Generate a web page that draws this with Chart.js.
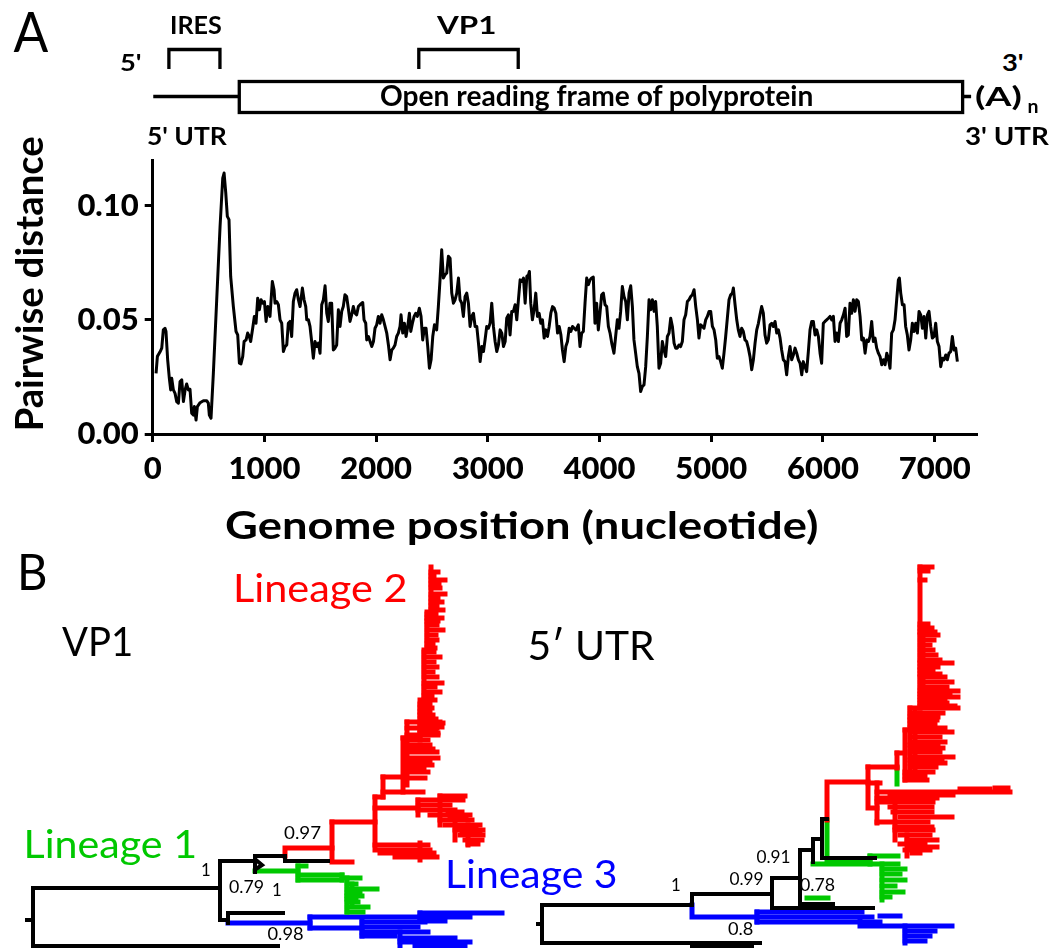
<!DOCTYPE html>
<html><head><meta charset="utf-8">
<script src="https://cdn.jsdelivr.net/npm/chart.js@4.4.1/dist/chart.umd.min.js"></script>
<style>
html,body{margin:0;padding:0;background:#fff;}
#fig{position:relative;width:1054px;height:948px;overflow:hidden;background:#fff;font-family:Lato,'Open Sans',sans-serif;}
canvas{position:absolute;left:0;}
.lbl{position:absolute;white-space:nowrap;line-height:1;transform-origin:50% 50%;}
</style></head>
<body>
<div id="fig">
<canvas id="cA" width="1000" height="510" style="top:0"></canvas>
<canvas id="cB" width="1054" height="388" style="top:560px"></canvas>
</div>
<script>
// ---------- Panel A data ----------
const genomePositions = [
30,42,66,81,95,110,119,134,149,161,
170,185,200,215,230,245,260,275,290,304,
319,334,349,364,373,388,400,424,454,483,
498,507,522,543,573,603,627,639,654,668,
683,698,722,746,761,776,790,806,818,836,
850,865,877,895,910,925,940,955,970,985,
1000,1015,1030,1050,1071,1086,1095,1110,1125,1140,
1155,1170,1185,1200,1214,1229,1244,1259,1274,1289,
1304,1319,1340,1355,1370,1379,1394,1408,1423,1438,
1453,1468,1483,1498,1513,1528,1543,1558,1572,1587,
1602,1617,1632,1647,1662,1677,1692,1706,1721,1736,
1751,1766,1781,1796,1811,1826,1841,1856,1880,1892,
1907,1916,1931,1946,1961,1976,1990,2005,2020,2035,
2050,2065,2080,2095,2110,2125,2140,2154,2169,2184,
2199,2214,2223,2238,2253,2268,2283,2298,2310,2325,
2340,2355,2369,2387,2402,2417,2432,2447,2462,2477,
2492,2507,2522,2542,2557,2572,2587,2602,2617,2632,
2647,2662,2677,2692,2707,2722,2737,2751,2766,2781,
2796,2811,2826,2841,2856,2871,2886,2901,2916,2931,
2946,2961,2975,2990,3005,3020,3035,3050,3065,3080,
3095,3110,3125,3140,3155,3169,3184,3199,3214,3229,
3244,3259,3274,3289,3304,3319,3334,3349,3364,3372,
3384,3399,3414,3429,3444,3459,3474,3489,3504,3519,
3534,3549,3564,3579,3594,3609,3624,3639,3654,3668,
3683,3698,3713,3728,3743,3758,3773,3788,3810,3825,
3840,3855,3870,3885,3900,3915,3929,3944,3959,3974,
3989,4004,4019,4034,4049,4064,4079,4094,4109,4129,
4144,4159,4174,4189,4204,4219,4234,4249,4264,4279,
4294,4308,4323,4338,4353,4368,4383,4398,4413,4428,
4443,4458,4473,4488,4502,4517,4532,4547,4562,4577,
4592,4607,4622,4637,4652,4667,4681,4696,4711,4726,
4741,4756,4771,4786,4801,4816,4831,4846,4861,4876,
4890,4905,4920,4935,4950,4965,4980,4995,5010,5025,
5040,5054,5069,5084,5099,5114,5129,5144,5159,5174,
5189,5198,5213,5228,5242,5257,5272,5287,5302,5317,
5332,5347,5362,5377,5392,5407,5422,5436,5451,5466,
5481,5496,5511,5526,5541,5556,5571,5586,5601,5616,
5630,5645,5660,5675,5690,5705,5720,5735,5750,5765,
5780,5795,5810,5824,5839,5854,5869,5884,5899,5914,
5929,5944,5959,5974,5988,6003,6018,6033,6048,6063,
6078,6093,6108,6123,6138,6153,6168,6183,6198,6212,
6227,6242,6257,6272,6287,6302,6317,6332,6347,6362,
6377,6392,6407,6421,6436,6451,6466,6481,6496,6511,
6526,6541,6556,6571,6585,6600,6615,6630,6645,6660,
6675,6684,6696,6711,6726,6740,6755,6770,6785,6800,
6815,6830,6845,6860,6875,6890,6905,6920,6935,6949,
6964,6979,6994,7009,7024,7039,7054,7069,7084,7099,
7113,7128,7143,7158,7173,7188,7203
];
const pairwiseDistance = [
.0266,.034,.036,.0376,.0456,.0463,.0449,.0325,.0244,.0193,
.0244,.0193,.0178,.0142,.0135,.023,.0237,.0142,.0193,.0219,
.0193,.0196,.0091,.0083,.012,.0061,.012,.0137,.0146,.0146,
.0135,.0083,.0069,.0266,.0588,.0909,.1121,.1143,.1056,.0953,
.0939,.069,.0558,.0449,.0434,.031,.0307,.034,.0405,.0412,
.0442,.0427,.0405,.0463,.0515,.0485,.0595,.0544,.0588,.0573,
.058,.0493,.0558,.0515,.0668,.0632,.0573,.058,.0566,.05,
.0485,.0361,.0383,.039,.0485,.0493,.0427,.058,.0617,.0632,
.0588,.0558,.0639,.0588,.0558,.05,.05,.0471,.0405,.0332,
.0405,.0383,.0398,.0354,.0566,.0588,.0649,.0529,.0493,.0573,
.0573,.0368,.0376,.039,.0544,.0471,.0537,.0558,.061,.0602,
.0551,.0493,.0522,.0558,.0529,.0522,.0558,.0566,.0576,.05,
.0485,.0412,.0427,.0405,.0383,.0405,.0463,.0478,.0515,.0485,
.0522,.05,.0471,.0442,.039,.0325,.0368,.0376,.039,.0427,
.0442,.0471,.0522,.0442,.0485,.0427,.0471,.0529,.0449,.0485,
.0515,.0529,.0515,.0551,.0515,.0412,.0463,.0463,.0383,.0288,
.0325,.0427,.0478,.0456,.0558,.0675,.0807,.0683,.0697,.0705,
.0778,.077,.0617,.0573,.0588,.0617,.0683,.0588,.0573,.0515,
.0602,.0617,.0573,.0471,.0515,.0529,.0471,.0471,.0398,.0317,
.0383,.0361,.0412,.0471,.0463,.0485,.0573,.0471,.0405,.0361,
.039,.0456,.0442,.0383,.0405,.0507,.0522,.0434,.0537,.0537,
.0566,.05,.0588,.0675,.0668,.0683,.0573,.069,.0697,.0712,
.0573,.05,.0544,.0617,.0515,.0529,.0485,.05,.042,.0456,
.0427,.0471,.0529,.0558,.0551,.0529,.0442,.0471,.0434,.0368,
.0317,.0383,.0405,.0463,.0449,.0471,.0463,.0456,.0478,.0383,
.0442,.0449,.0573,.0683,.0654,.0675,.0683,.0687,.0485,.0573,
.0456,.0529,.061,.0617,.0566,.0558,.0471,.0442,.0398,.0354,
.0427,.05,.0463,.0537,.0646,.0602,.058,.05,.0617,.0649,
.0558,.0412,.0354,.0295,.0266,.0186,.0208,.0215,.0295,.0427,
.0588,.0544,.0588,.0537,.058,.0471,.0288,.031,.0405,.0368,
.0339,.0427,.0442,.0507,.0471,.0398,.0376,.0376,.039,.0383,
.0405,.05,.0522,.058,.0588,.0602,.061,.0632,.0558,.05,
.042,.0478,.0471,.0463,.05,.0515,.0537,.0537,.0471,.0456,
.0412,.0332,.0339,.0317,.0288,.0354,.0427,.0507,.0588,.061,
.0617,.0639,.0566,.05,.0456,.0427,.0463,.0449,.0412,.0405,
.0376,.0339,.0281,.0325,.0398,.0456,.0485,.0522,.0558,.0529,
.0434,.0398,.0412,.0478,.0485,.0471,.0493,.0442,.0456,.042,
.0368,.0325,.0317,.0259,.0339,.0383,.0325,.0346,.0376,.0354,
.0325,.031,.0259,.0317,.0295,.0273,.0361,.0456,.0493,.0493,
.0434,.0456,.0427,.0354,.031,.0485,.0493,.05,.0507,.0515,
.05,.0515,.0405,.0442,.0405,.0485,.05,.0522,.0551,.0427,
.0434,.0573,.0529,.0588,.0537,.0588,.058,.0515,.0412,.042,
.0354,.0412,.0405,.0427,.0493,.0405,.042,.0376,.0354,.0339,
.0303,.0325,.0303,.0354,.0332,.0288,.0442,.0456,.05,.0588,
.0675,.0683,.0617,.0566,.0566,.0471,.0434,.0368,.0412,.0485,
.0449,.0485,.0442,.0537,.0522,.0463,.0515,.042,.0522,.0537,
.0471,.042,.0427,.0485,.0405,.0383,.0295,.0332,.0325,.0346,
.0325,.0354,.0361,.0427,.0368,.0376,.0317
];
const xTickValues = [0,1000,2000,3000,4000,5000,6000,7000];
const yTickValues = [0, 0.05, 0.10];

// genome map (nucleotide positions)
const genomeSpan = [5, 7326];
const orfRange = [775, 7250];
const iresRange = [145, 602];
const vp1Range = [2382, 3272];

// ---------- Panel B tree branches (tree-space coordinates) ----------
const vp1Black = [
 [[27,920],[33,920]],
 [[220,888],[33,888],[33,946],[278,946]],
 [[255,861],[220,861],[220,920],[228,920]],
 [[228,923],[228,913],[283,913]],
 [[255,872],[255,856],[285,856],[285,861],[328,861]],
 [[256,860],[262,865],[256,869]]
];
const vp1Red = [
 [[285,856],[285,848],[332,848]],
 [[332,822],[332,862],[352,862]],
 [[332,822],[375,822]],
 [[375,797],[375,850],[430,850]],
 [[375,845],[428,845]],[[380,853],[434,853]],[[395,857],[437,857]],[[420,843],[420,860]],
 [[375,808],[418,808]],[[418,800],[418,815]],[[418,800],[463,800]],[[440,796],[465,796]],
 [[418,805],[450,805]],[[418,810],[455,810]],[[430,815],[470,815]],[[440,796],[440,825]],
 [[440,820],[472,820]],[[445,825],[480,825]],[[455,815],[455,840]],[[455,830],[483,830]],
 [[460,835],[483,835]],[[465,840],[482,840]],[[468,825],[468,845]],[[468,844],[478,844]],
 [[448,812],[462,812]],[[450,818],[466,818]],[[458,828],[476,828]],[[462,833],[480,833]],
 [[375,797],[383,797]],[[383,777],[383,797]],[[383,777],[403,777]],[[383,792],[423,792]],
 [[403,738],[403,792]],[[407,722],[407,785]],
 [[407,722],[440,722]],[[407,728],[437,728]],[[407,735],[438,735]],[[407,745],[430,745]],
 [[407,752],[437,752]],[[407,758],[438,758]],[[407,765],[432,765]],[[407,772],[428,772]],
 [[407,778],[425,778]],[[403,738],[420,738]],[[410,740],[428,740]],[[410,749],[433,749]],
 [[410,762],[430,762]],[[410,768],[424,768]],
 [[420,740],[420,700],[424,700],[424,650],[427,650],[427,612],[431,612],[431,567]],
 [[431,572],[438,572]],[[431,576],[434,576]],[[431,580],[445,580]],[[431,584],[439,584]],
 [[431,588],[440,588]],[[431,594],[445,594]],[[431,598],[438,598]],[[431,602],[442,602]],
 [[431,606],[437,606]],[[431,610],[443,610]],[[427,614],[436,614]],[[427,618],[442,618]],
 [[427,621],[438,621]],[[427,625],[437,625]],[[427,630],[443,630]],[[427,635],[436,635]],
 [[427,640],[437,640]],[[427,644],[433,644]],[[427,648],[435,648]],[[424,652],[434,652]],
 [[424,657],[440,657]],[[424,662],[434,662]],[[424,667],[437,667]],[[424,672],[433,672]],
 [[424,677],[437,677]],[[424,683],[442,683]],[[424,687],[435,687]],[[424,692],[440,692]],
 [[424,696],[432,696]],[[424,700],[435,700]],[[420,704],[430,704]],[[420,708],[432,708]],
 [[420,712],[430,712]],[[420,715],[433,715]],[[420,719],[436,719]],[[420,723],[443,723]],
 [[420,727],[442,727]],[[420,730],[436,730]],[[420,733],[438,733]]
];
const vp1Green = [
 [[255,871],[298,871]],[[298,866],[298,880]],[[298,866],[306,866]],
 [[298,875],[342,875]],[[298,880],[342,880]],[[342,875],[342,880]],
 [[342,878],[360,878]],[[347,878],[347,912]],[[352,884],[352,905]],
 [[347,884],[356,884]],[[347,889],[377,889]],[[347,893],[360,893]],[[347,896],[362,896]],
 [[347,899],[356,899]],[[347,902],[358,902]],[[347,907],[368,907]],[[347,912],[363,912]]
];
const vp1Blue = [
 [[228,923],[310,923]],[[310,917],[310,928]],[[310,917],[420,917]],
 [[420,913],[420,921]],[[420,913],[502,913]],[[420,917],[470,917]],[[420,921],[445,921]],
 [[310,928],[362,928]],[[362,920],[362,936]],[[362,922],[425,922]],[[362,927],[418,927]],
 [[362,932],[428,932]],[[362,936],[395,936]],[[400,932],[400,946]],
 [[400,938],[455,938]],[[400,942],[470,942]],[[415,946],[465,946]]
];
const utrBlack = [
 [[538,924],[542,924]],
 [[692,905],[542,905],[542,943],[760,943]],
 [[692,946],[752,946]],
 [[692,905],[692,894],[772,894]],
 [[772,878],[772,908],[873,908]],
 [[772,878],[800,878]],
 [[800,907],[800,850],[813,850]],
 [[813,862],[813,839],[822,839]],
 [[822,858],[822,819],[827,819]],
 [[822,858],[875,858]],
 [[800,904],[833,904]]
];
const utrRed = [
 [[827,820],[827,782],[868,782]],
 [[868,767],[868,808],[877,808]],
 [[868,767],[897,767]],[[897,753],[897,768]],[[897,753],[905,753]],
 [[905,730],[905,780]],[[905,780],[927,780]],[[905,772],[933,772]],[[905,776],[925,776]],
 [[905,730],[910,730]],[[910,708],[910,773]],[[910,708],[920,708]],
 [[920,708],[920,567]],[[923,625],[923,700]],[[915,710],[915,770]],
 [[920,567],[932,567]],[[920,571],[928,571]],[[920,580],[925,580]],
 [[920,624],[928,624]],[[920,628],[932,628]],[[920,632],[935,632]],[[920,635],[938,635]],
 [[920,640],[934,640]],[[920,645],[930,645]],
 [[920,650],[933,650]],[[920,655],[936,655]],[[920,660],[940,660]],[[920,663],[952,663]],
 [[920,667],[938,667]],[[920,670],[933,670]],[[920,674],[940,674]],
 [[920,677],[945,677]],[[920,682],[952,682]],[[920,687],[947,687]],[[920,691],[958,691]],
 [[920,694],[950,694]],[[920,697],[958,697]],[[920,700],[945,700]],[[920,703],[947,703]],
 [[920,706],[955,706]],[[920,708],[958,708]],
 [[910,713],[943,713]],[[910,717],[938,717]],[[910,720],[937,720]],[[910,724],[935,724]],
 [[910,728],[945,728]],[[910,732],[952,732]],[[910,737],[940,737]],[[910,742],[945,742]],
 [[910,745],[938,745]],[[910,748],[943,748]],[[910,752],[940,752]],[[910,757],[953,757]],
 [[910,760],[942,760]],[[910,763],[945,763]],[[910,767],[936,767]],
 [[877,783],[877,823]],[[868,783],[880,783]],
 [[877,792],[1010,792]],[[960,789],[990,789]],[[995,788],[1008,788]],
 [[890,795],[953,795]],[[877,798],[937,798]],[[877,802],[933,802]],[[890,807],[932,807]],
 [[893,812],[932,812]],[[900,817],[952,817]],[[877,822],[928,822]],[[895,827],[932,827]],
 [[895,830],[933,830]],[[900,835],[930,835]],[[907,840],[937,840]],[[910,847],[937,847]],
 [[912,853],[920,853]],[[895,798],[895,840]],[[907,835],[907,856]],
 [[900,844],[925,844]],[[905,850],[930,850]]
];
const utrGreen = [
 [[827,820],[827,860],[870,860]],
 [[813,864],[898,864]],
 [[870,856],[870,864]],[[870,856],[898,856]],
 [[882,864],[882,900]],[[882,869],[905,869]],[[882,874],[900,874]],
 [[882,880],[905,880]],[[882,886],[895,886]],[[882,892],[903,892]],[[882,897],[890,897]],
 [[807,898],[828,898]],
 [[897,768],[897,784]]
];
const utrBlue = [
 [[692,905],[692,917],[757,917]],
 [[757,912],[757,922]],
 [[757,912],[862,912]],[[757,917],[872,917]],[[757,922],[880,922]],
 [[860,920],[860,926],[952,926]],[[880,916],[900,916]],
 [[905,926],[905,943]],[[905,931],[935,931]],[[905,936],[930,936]],[[905,941],[925,941]]
];

// ---------- Panel A chart ----------
const genomeMap = {
  id:'genomeMap',
  afterDraw(chart){
    const ctx = chart.ctx, xs = chart.scales.x;
    const px = v => xs.getPixelForValue(v);
    ctx.save();
    ctx.strokeStyle = '#000'; ctx.lineWidth = 3.3; ctx.lineJoin = 'miter'; ctx.lineCap = 'butt';
    ctx.beginPath();
    ctx.moveTo(px(genomeSpan[0]), 96.5); ctx.lineTo(px(orfRange[0]), 96.5);
    ctx.moveTo(px(orfRange[1]), 96.5); ctx.lineTo(px(genomeSpan[1]), 96.5);
    ctx.stroke();
    ctx.strokeRect(px(orfRange[0]), 81.5, px(orfRange[1]) - px(orfRange[0]), 31);
    [iresRange, vp1Range].forEach(r => {
      ctx.beginPath();
      ctx.moveTo(px(r[0]), 69); ctx.lineTo(px(r[0]), 49.5); ctx.lineTo(px(r[1]), 49.5); ctx.lineTo(px(r[1]), 69);
      ctx.stroke();
    });
    ctx.restore();
  }
};
const axisStyle = {
  grid:{drawOnChartArea:false, drawTicks:true, tickLength:8, tickWidth:3, color:'#000'},
  border:{display:true, width:3, color:'#000'}
};
new Chart(document.getElementById('cA'), {
  type:'line',
  data:{datasets:[{
    data: genomePositions.map((p,i)=>({x:p, y:pairwiseDistance[i]})),
    borderColor:'#000', borderWidth:3, pointRadius:0, tension:0, fill:false, borderJoinStyle:'round'
  }]},
  options:{
    responsive:false, animation:false, events:[],
    layout:{padding:{top:160, right:22.3, left:0, bottom:0}},
    plugins:{legend:{display:false}, tooltip:{enabled:false}},
    scales:{
      x:{type:'linear', min:0, max:7385, ...axisStyle,
        afterFit(s){ s.height = 76; },
        afterBuildTicks(s){ s.ticks = xTickValues.map(v=>({value:v})); },
        ticks:{color:'#000', font:{family:'Lato', size:31, weight:'900'}, padding:8, maxRotation:0, autoSkip:false,
          callback:v=>String(v)}
      },
      y:{type:'linear', min:0, max:0.12, ...axisStyle,
        afterFit(s){ s.width = 152.7; },
        afterBuildTicks(s){ s.ticks = yTickValues.map(v=>({value:v})); },
        ticks:{color:'#000', font:{family:'Lato', size:31, weight:'900'}, padding:6,
          callback:v=>Number(v).toFixed(2)}
      }
    }
  },
  plugins:[genomeMap]
});

// ---------- Panel B trees ----------
const RED='#FF0000', GREEN='#00C800', BLUE='#0000FF', BLACK='#000000';
const groups = [[vp1Black,BLACK,4],[vp1Red,RED,5],[vp1Green,GREEN,5],[vp1Blue,BLUE,5],
                [utrBlack,BLACK,4],[utrRed,RED,5],[utrGreen,GREEN,5],[utrBlue,BLUE,5]];
const treeSets = [];
groups.forEach(([lines,col,lw])=>{
  lines.forEach(pl=>{
    treeSets.push({data:pl.map(([x,y])=>({x,y})), showLine:true, borderColor:col, backgroundColor:col,
      borderWidth:lw, pointRadius:0, borderCapStyle:'square', borderJoinStyle:'miter', tension:0, clip:false});
  });
});
new Chart(document.getElementById('cB'), {
  type:'scatter',
  data:{datasets:treeSets},
  options:{responsive:false, animation:false, events:[],
    layout:{padding:0},
    plugins:{legend:{display:false}, tooltip:{enabled:false}},
    scales:{x:{display:false, type:'linear', min:0, max:1054},
            y:{display:false, type:'linear', min:560, max:948, reverse:true}}
  }
});

// ---------- Text labels ----------
const fig = document.getElementById('fig');
const labelLayout = [
 {t:'A', cx:31, cy:33, cap:40, w:35},
 {t:'IRES', cx:196, cy:25, cap:18, w:52, b:1},
 {t:'VP1', cx:467, cy:25, cap:18, w:60, b:1},
 {t:"5'", cx:131, cy:64, cap:16, w:22, b:1},
 {t:"3'", cx:1013, cy:64, cap:16, w:22, b:1},
 {t:'Open reading frame of polyprotein', cx:596, cy:97, cap:20, w:433, b:1},
 {t:'(A)', cx:998, cy:97, cap:19, w:47, b:1},
 {t:'n', cx:1033, cy:107, cap:14, b:1},
 {t:"5' UTR", cx:187, cy:136, cap:18, w:80, b:1},
 {t:"3' UTR", cx:1007, cy:136, cap:18, w:84, b:1},
 {t:'Pairwise distance', cx:28.5, cy:285.5, cap:27, w:295, b:1, rot:-90},
 {t:'Genome position (nucleotide)', cx:521, cy:525, cap:28, w:593, b:1},
 {t:'B', cx:32, cy:572, cap:36, w:30},
 {t:'VP1', cx:97.5, cy:642, cap:29, w:71},
 {t:'5\u2032 UTR', cx:591, cy:646, cap:29, w:127},
 {t:'Lineage 2', cx:320, cy:588, cap:28, w:175, c:RED},
 {t:'Lineage 1', cx:110, cy:844, cap:28, w:174, c:GREEN},
 {t:'Lineage 3', cx:531, cy:874, cap:28, w:173, c:BLUE},
 {t:'0.97', cx:302, cy:834, cap:12, w:37},
 {t:'1', cx:206, cy:871, cap:12},
 {t:'0.79', cx:246, cy:888, cap:12, w:35},
 {t:'1', cx:277, cy:891, cap:12},
 {t:'0.98', cx:285, cy:935, cap:12, w:36},
 {t:'0.91', cx:773, cy:858, cap:12, w:34},
 {t:'0.99', cx:746, cy:880, cap:12, w:34},
 {t:'1', cx:676, cy:886, cap:12},
 {t:'0.78', cx:817, cy:886, cap:12, w:35},
 {t:'0.8', cx:740, cy:930, cap:12, w:25}
];
labelLayout.forEach(L=>{
  const el = document.createElement('div');
  el.className = 'lbl';
  el.textContent = L.t;
  const fs = L.cap/0.7165;
  el.style.fontSize = fs+'px';
  el.style.fontWeight = L.b ? '700' : '400';
  el.style.color = L.c || '#000';
  fig.appendChild(el);
  const w0 = el.offsetWidth, h0 = el.offsetHeight;
  const sx = L.w ? L.w/w0 : 1;
  el.style.left = (L.cx - w0/2)+'px';
  el.style.top = (L.cy - h0/2 - 0.029*fs)+'px';
  el.style.transform = 'rotate('+(L.rot||0)+'deg) scaleX('+sx.toFixed(3)+')';
});
</script>
</body></html>
